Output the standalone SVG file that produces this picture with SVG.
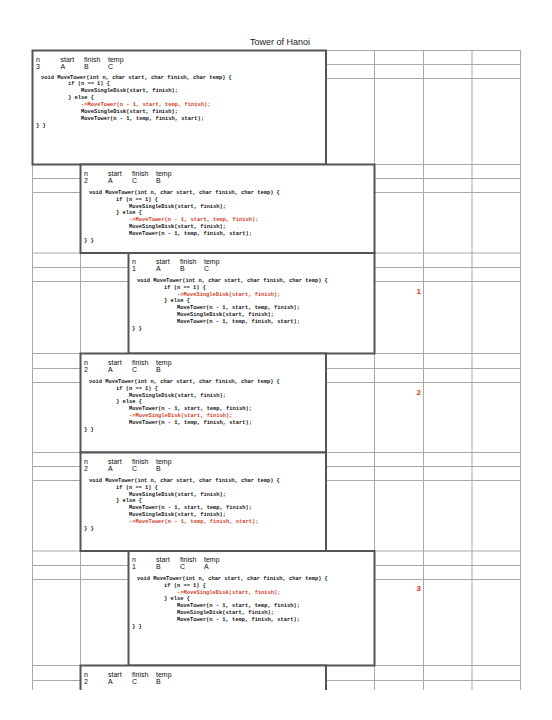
<svg xmlns="http://www.w3.org/2000/svg" width="552" height="720" viewBox="0 0 552 720">
<defs>
<clipPath id="page"><rect x="0" y="0" width="552" height="690"/></clipPath>
</defs>
<style>
.grid line{stroke:#a8a8a8;stroke-width:1}
.box{fill:#fff;stroke:#555;stroke-width:2}
.h{font-family:"Liberation Sans",Arial,sans-serif;font-size:7px;fill:#111}
.c{font-family:"Liberation Mono","Courier New",monospace;font-size:5.4px;font-weight:bold;fill:#111;white-space:pre}
.r{fill:#d23a1c}
.num{font-family:"Liberation Sans",Arial,sans-serif;font-size:8px;font-weight:bold;fill:#d23a1c;text-anchor:end}
.title{font-family:"Liberation Sans",Arial,sans-serif;font-size:9px;fill:#222}
</style>
<rect width="552" height="720" fill="#fff"/>
<text class="title" x="250" y="45">Tower of Hanoi</text>
<g clip-path="url(#page)">
<g id="grid" class="grid">
<line x1="32.5" y1="50.5" x2="32.5" y2="690"/>
<line x1="80.5" y1="50.5" x2="80.5" y2="690"/>
<line x1="128.5" y1="50.5" x2="128.5" y2="690"/>
<line x1="326" y1="50.5" x2="326" y2="690"/>
<line x1="374.5" y1="50.5" x2="374.5" y2="690"/>
<line x1="423.5" y1="50.5" x2="423.5" y2="690"/>
<line x1="472" y1="50.5" x2="472" y2="690"/>
<line x1="520.5" y1="50.5" x2="520.5" y2="690"/>
<line x1="32" y1="50.5" x2="521" y2="50.5"/>
<line x1="32" y1="64.5" x2="521" y2="64.5"/>
<line x1="32" y1="78.5" x2="521" y2="78.5"/>
<line x1="32" y1="164.5" x2="521" y2="164.5"/>
<line x1="32" y1="178.5" x2="521" y2="178.5"/>
<line x1="32" y1="192.5" x2="521" y2="192.5"/>
<line x1="32" y1="253" x2="521" y2="253"/>
<line x1="32" y1="267.5" x2="521" y2="267.5"/>
<line x1="32" y1="281.5" x2="521" y2="281.5"/>
<line x1="32" y1="353.5" x2="521" y2="353.5"/>
<line x1="32" y1="368.5" x2="521" y2="368.5"/>
<line x1="32" y1="382.5" x2="521" y2="382.5"/>
<line x1="32" y1="452.5" x2="521" y2="452.5"/>
<line x1="32" y1="466.5" x2="521" y2="466.5"/>
<line x1="32" y1="480.5" x2="521" y2="480.5"/>
<line x1="32" y1="551" x2="521" y2="551"/>
<line x1="32" y1="565.5" x2="521" y2="565.5"/>
<line x1="32" y1="579.5" x2="521" y2="579.5"/>
<line x1="32" y1="665.5" x2="521" y2="665.5"/>
<line x1="32" y1="680.5" x2="521" y2="680.5"/>
</g>

<g id="frame1" transform="translate(32.5,50.5)">
<rect class="box" x="0" y="0" width="293.5" height="114"/>
<text class="h" y="11"><tspan x="3.5">n</tspan><tspan x="28">start</tspan><tspan x="51.5">finish</tspan><tspan x="75.5">temp</tspan></text>
<text class="h" y="18.3"><tspan x="3.5">3</tspan><tspan x="28">A</tspan><tspan x="51.5">B</tspan><tspan x="75.5">C</tspan></text>
<text class="c" x="8.5" y="28">void MoveTower(int n, char start, char finish, char temp) {</text>
<text class="c" x="35.5" y="34.9">if (n == 1) {</text>
<text class="c" x="48.5" y="41.8">MoveSingleDisk(start, finish);</text>
<text class="c" x="35.5" y="48.7">} else {</text>
<text class="c r" x="48.5" y="55.6">-&gt;MoveTower(n - 1, start, temp, finish);</text>
<text class="c" x="48.5" y="62.5">MoveSingleDisk(start, finish);</text>
<text class="c" x="48.5" y="69.4">MoveTower(n - 1, temp, finish, start);</text>
<text class="c" x="3.5" y="76.3">} }</text>
</g>

<g id="frame2" transform="translate(80.5,164.5)">
<rect class="box" x="0" y="0" width="294" height="88.5"/>
<text class="h" y="11"><tspan x="3.5">n</tspan><tspan x="27.5">start</tspan><tspan x="51.5">finish</tspan><tspan x="75.5">temp</tspan></text>
<text class="h" y="18.3"><tspan x="3.5">2</tspan><tspan x="27.5">A</tspan><tspan x="51.5">C</tspan><tspan x="75.5">B</tspan></text>
<text class="c" x="8.5" y="29.5">void MoveTower(int n, char start, char finish, char temp) {</text>
<text class="c" x="35.5" y="36.3">if (n == 1) {</text>
<text class="c" x="48.5" y="43.1">MoveSingleDisk(start, finish);</text>
<text class="c" x="35.5" y="49.9">} else {</text>
<text class="c r" x="48.5" y="56.7">-&gt;MoveTower(n - 1, start, temp, finish);</text>
<text class="c" x="48.5" y="63.5">MoveSingleDisk(start, finish);</text>
<text class="c" x="48.5" y="70.3">MoveTower(n - 1, temp, finish, start);</text>
<text class="c" x="3.5" y="77.1">} }</text>
</g>

<g id="frame3" transform="translate(128.5,253)">
<rect class="box" x="0" y="0" width="246" height="100.5"/>
<text class="h" y="11"><tspan x="3.5">n</tspan><tspan x="27.5">start</tspan><tspan x="51.5">finish</tspan><tspan x="75.5">temp</tspan></text>
<text class="h" y="18.3"><tspan x="3.5">1</tspan><tspan x="27.5">A</tspan><tspan x="51.5">B</tspan><tspan x="75.5">C</tspan></text>
<text class="c" x="8.5" y="29">void MoveTower(int n, char start, char finish, char temp) {</text>
<text class="c" x="35.5" y="35.8">if (n == 1) {</text>
<text class="c r" x="48.5" y="42.6">-&gt;MoveSingleDisk(start, finish);</text>
<text class="c" x="35.5" y="49.4">} else {</text>
<text class="c" x="48.5" y="56.2">MoveTower(n - 1, start, temp, finish);</text>
<text class="c" x="48.5" y="63">MoveSingleDisk(start, finish);</text>
<text class="c" x="48.5" y="69.8">MoveTower(n - 1, temp, finish, start);</text>
<text class="c" x="3.5" y="76.6">} }</text>
</g>

<g id="frame4" transform="translate(80.5,353.5)">
<rect class="box" x="0" y="0" width="245.5" height="99"/>
<text class="h" y="11"><tspan x="3.5">n</tspan><tspan x="27.5">start</tspan><tspan x="51.5">finish</tspan><tspan x="75.5">temp</tspan></text>
<text class="h" y="18.3"><tspan x="3.5">2</tspan><tspan x="27.5">A</tspan><tspan x="51.5">C</tspan><tspan x="75.5">B</tspan></text>
<text class="c" x="8.5" y="29.5">void MoveTower(int n, char start, char finish, char temp) {</text>
<text class="c" x="35.5" y="36.3">if (n == 1) {</text>
<text class="c" x="48.5" y="43.1">MoveSingleDisk(start, finish);</text>
<text class="c" x="35.5" y="49.9">} else {</text>
<text class="c" x="48.5" y="56.7">MoveTower(n - 1, start, temp, finish);</text>
<text class="c r" x="48.5" y="63.5">-&gt;MoveSingleDisk(start, finish);</text>
<text class="c" x="48.5" y="70.3">MoveTower(n - 1, temp, finish, start);</text>
<text class="c" x="3.5" y="77.1">} }</text>
</g>

<g id="frame5" transform="translate(80.5,452.5)">
<rect class="box" x="0" y="0" width="245.5" height="98.5"/>
<text class="h" y="11"><tspan x="3.5">n</tspan><tspan x="27.5">start</tspan><tspan x="51.5">finish</tspan><tspan x="75.5">temp</tspan></text>
<text class="h" y="18.3"><tspan x="3.5">2</tspan><tspan x="27.5">A</tspan><tspan x="51.5">C</tspan><tspan x="75.5">B</tspan></text>
<text class="c" x="8.5" y="29.5">void MoveTower(int n, char start, char finish, char temp) {</text>
<text class="c" x="35.5" y="36.3">if (n == 1) {</text>
<text class="c" x="48.5" y="43.1">MoveSingleDisk(start, finish);</text>
<text class="c" x="35.5" y="49.9">} else {</text>
<text class="c" x="48.5" y="56.7">MoveTower(n - 1, start, temp, finish);</text>
<text class="c" x="48.5" y="63.5">MoveSingleDisk(start, finish);</text>
<text class="c r" x="48.5" y="70.3">-&gt;MoveTower(n - 1, temp, finish, start);</text>
<text class="c" x="3.5" y="77.1">} }</text>
</g>

<g id="frame6" transform="translate(128.5,551)">
<rect class="box" x="0" y="0" width="246" height="114.5"/>
<text class="h" y="11"><tspan x="3.5">n</tspan><tspan x="27.5">start</tspan><tspan x="51.5">finish</tspan><tspan x="75.5">temp</tspan></text>
<text class="h" y="18.3"><tspan x="3.5">1</tspan><tspan x="27.5">B</tspan><tspan x="51.5">C</tspan><tspan x="75.5">A</tspan></text>
<text class="c" x="8.5" y="29">void MoveTower(int n, char start, char finish, char temp) {</text>
<text class="c" x="35.5" y="35.8">if (n == 1) {</text>
<text class="c r" x="48.5" y="42.6">-&gt;MoveSingleDisk(start, finish);</text>
<text class="c" x="35.5" y="49.4">} else {</text>
<text class="c" x="48.5" y="56.2">MoveTower(n - 1, start, temp, finish);</text>
<text class="c" x="48.5" y="63">MoveSingleDisk(start, finish);</text>
<text class="c" x="48.5" y="69.8">MoveTower(n - 1, temp, finish, start);</text>
<text class="c" x="3.5" y="76.6">} }</text>
</g>

<g id="frame7" transform="translate(80.5,665.5)">
<rect class="box" x="0" y="0" width="245.5" height="100"/>
<text class="h" y="11"><tspan x="3.5">n</tspan><tspan x="27.5">start</tspan><tspan x="51.5">finish</tspan><tspan x="75.5">temp</tspan></text>
<text class="h" y="18.3"><tspan x="3.5">2</tspan><tspan x="27.5">A</tspan><tspan x="51.5">C</tspan><tspan x="75.5">B</tspan></text>
</g>

<g id="steps">
<text class="num" x="421" y="294">1</text>
<text class="num" x="421" y="395">2</text>
<text class="num" x="421" y="591">3</text>
</g>
</g>
</svg>
